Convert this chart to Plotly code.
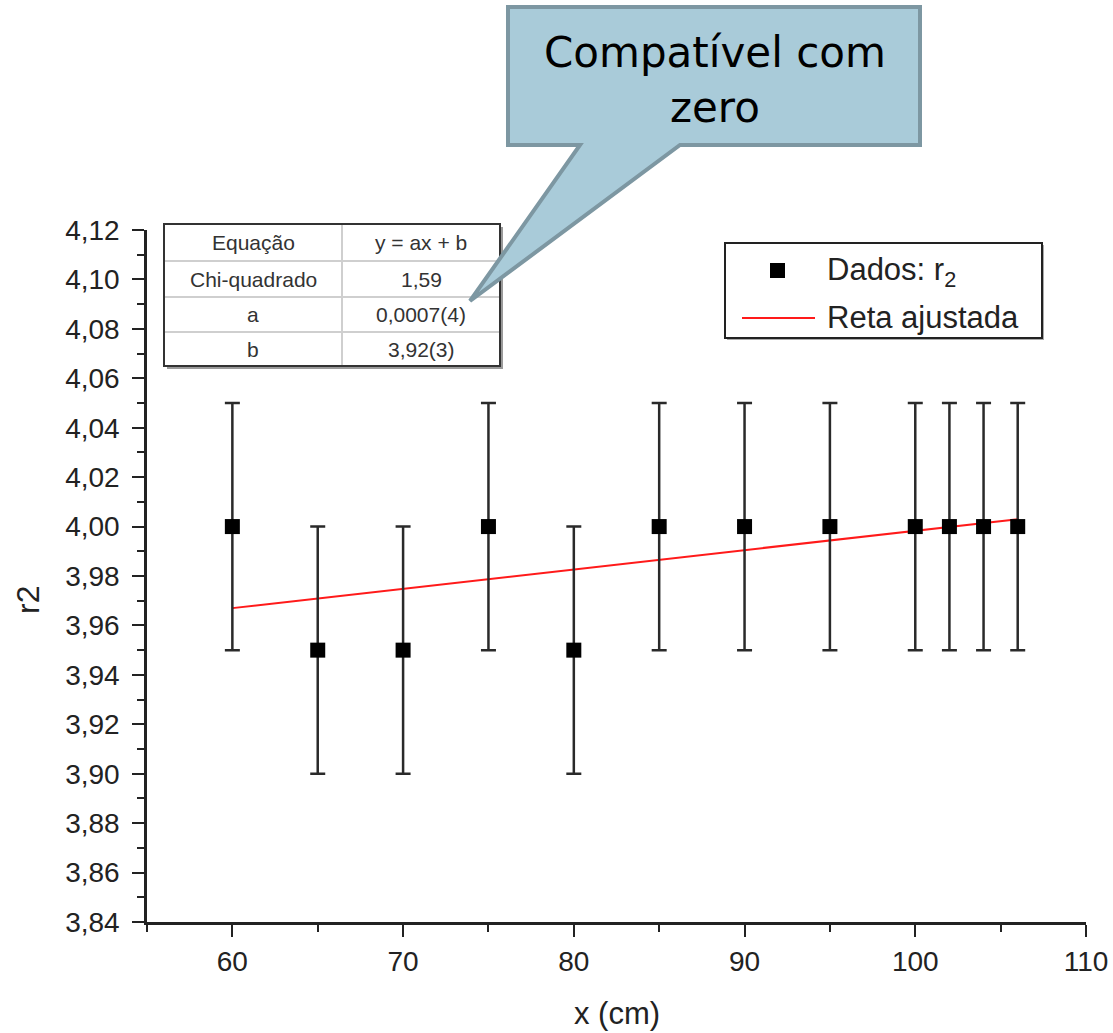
import plotly.graph_objects as go

# ---------------- data ----------------
x_cm = [60, 65, 70, 75, 80, 85, 90, 95, 100, 102, 104, 106]
r2 = [4.00, 3.95, 3.95, 4.00, 3.95, 4.00, 4.00, 4.00, 4.00, 4.00, 4.00, 4.00]
r2_err = [0.05] * 12

fit_x = [60, 106]
fit_y = [3.967, 4.003]

y_tickvals = [3.84, 3.86, 3.88, 3.90, 3.92, 3.94, 3.96, 3.98, 4.00, 4.02, 4.04, 4.06, 4.08, 4.10, 4.12]
y_ticktext = ["3,84", "3,86", "3,88", "3,90", "3,92", "3,94", "3,96", "3,98", "4,00",
              "4,02", "4,04", "4,06", "4,08", "4,10", "4,12"]
x_tickvals = [60, 70, 80, 90, 100, 110]
x_ticktext = ["60", "70", "80", "90", "100", "110"]

table_rows = [["Equação", "y = ax + b"],
              ["Chi-quadrado", "1,59"],
              ["a", "0,0007(4)"],
              ["b", "3,92(3)"]]

legend_labels = ["Dados: r<sub>2</sub>", "Reta ajustada"]
callout_text = "Compatível com<br>zero"
x_title = "x (cm)"
y_title = "r2"

# ---------------- layout geometry (pixels) ----------------
W, H = 1113, 1033
L, R, T, B = 147, 27, 230, 111
PW, PH = W - L - R, H - T - B


def px(x):
    return (x - L) / PW


def py(y):
    return (H - B - y) / PH


FONT = "Liberation Sans, Arial, sans-serif"
AX = "#222222"

fig = go.Figure()

fig.add_trace(go.Scatter(
    x=fit_x, y=fit_y, mode="lines",
    line=dict(color="#ff1a1a", width=2),
    showlegend=False, hoverinfo="skip"))

fig.add_trace(go.Scatter(
    x=x_cm, y=r2, mode="markers",
    marker=dict(symbol="square", size=15, color="#000000"),
    error_y=dict(type="data", array=r2_err, visible=True,
                 color="#2a2a2a", thickness=2.5, width=7.5),
    showlegend=False))

shapes = []
annotations = []

# ---------- table ----------
tx0, tx1, tmid = 164, 500, 342
row_edges = [224, 261, 297, 332, 366]
shapes.append(dict(type="rect", xref="paper", yref="paper",
                   x0=px(tx0 + 3), x1=px(tx1 + 3), y0=py(row_edges[-1] + 3), y1=py(row_edges[0] + 3),
                   fillcolor="#9a9a9a", line=dict(width=0), layer="above"))
shapes.append(dict(type="rect", xref="paper", yref="paper",
                   x0=px(tx0), x1=px(tx1), y0=py(row_edges[-1]), y1=py(row_edges[0]),
                   fillcolor="white", line=dict(width=0), layer="above"))
for ye in row_edges[1:-1]:
    shapes.append(dict(type="line", xref="paper", yref="paper",
                       x0=px(tx0), x1=px(tx1), y0=py(ye), y1=py(ye),
                       line=dict(color="#cfcfcf", width=2), layer="above"))
shapes.append(dict(type="line", xref="paper", yref="paper",
                   x0=px(tmid), x1=px(tmid), y0=py(row_edges[0]), y1=py(row_edges[-1]),
                   line=dict(color="#cfcfcf", width=2), layer="above"))
shapes.append(dict(type="rect", xref="paper", yref="paper",
                   x0=px(tx0), x1=px(tx1), y0=py(row_edges[-1]), y1=py(row_edges[0]),
                   fillcolor="rgba(0,0,0,0)", line=dict(color="#333333", width=2), layer="above"))
for i, (c1, c2) in enumerate(table_rows):
    yc = (row_edges[i] + row_edges[i + 1]) / 2
    annotations.append(dict(xref="paper", yref="paper", x=px((tx0 + tmid) / 2), y=py(yc),
                            text=c1, showarrow=False, xanchor="center", yanchor="middle",
                            font=dict(family=FONT, size=21, color="#333333")))
    annotations.append(dict(xref="paper", yref="paper", x=px((tmid + tx1) / 2), y=py(yc),
                            text=c2, showarrow=False, xanchor="center", yanchor="middle",
                            font=dict(family=FONT, size=21, color="#333333")))

# ---------- legend (drawn) ----------
lx0, lx1, ly0, ly1 = 725, 1042, 243, 338
shapes.append(dict(type="rect", xref="paper", yref="paper",
                   x0=px(lx0 + 2), x1=px(lx1 + 2), y0=py(ly1 + 2), y1=py(ly0 + 2),
                   fillcolor="#aaaaaa", line=dict(width=0), layer="above"))
shapes.append(dict(type="rect", xref="paper", yref="paper",
                   x0=px(lx0), x1=px(lx1), y0=py(ly1), y1=py(ly0),
                   fillcolor="white", line=dict(color="#222222", width=2), layer="above"))
shapes.append(dict(type="rect", xref="paper", yref="paper",
                   x0=px(770), x1=px(785), y0=py(278), y1=py(263),
                   fillcolor="#000000", line=dict(width=0), layer="above"))
shapes.append(dict(type="line", xref="paper", yref="paper",
                   x0=px(742), x1=px(815), y0=py(318), y1=py(318),
                   line=dict(color="#ff1a1a", width=2), layer="above"))
annotations.append(dict(xref="paper", yref="paper", x=px(825), y=py(272),
                        text=legend_labels[0], showarrow=False, xanchor="left", yanchor="middle",
                        font=dict(family=FONT, size=31, color="#222222")))
annotations.append(dict(xref="paper", yref="paper", x=px(825), y=py(317),
                        text=legend_labels[1], showarrow=False, xanchor="left", yanchor="middle",
                        font=dict(family=FONT, size=31, color="#222222")))

# ---------- callout ----------
pts = [(508, 7), (920, 7), (920, 145), (680, 145), (470, 301), (580, 145), (508, 145)]
path = "M " + " L ".join(f"{px(a):.5f},{py(b):.5f}" for a, b in pts) + " Z"
shapes.append(dict(type="path", xref="paper", yref="paper", path=path,
                   fillcolor="#a9cbd9", line=dict(color="#7d97a2", width=4), layer="above"))
annotations.append(dict(xref="paper", yref="paper", x=px(715), y=py(80),
                        text=callout_text, showarrow=False, xanchor="center", yanchor="middle",
                        align="center",
                        font=dict(family="DejaVu Sans, Verdana, sans-serif", size=42, color="#000000")))

# ---------- axis titles ----------
annotations.append(dict(xref="paper", yref="paper", x=px(617), y=py(1013),
                        text=x_title, showarrow=False, xanchor="center", yanchor="middle",
                        font=dict(family=FONT, size=31, color="#222222")))
annotations.append(dict(xref="paper", yref="paper", x=px(28), y=py(600),
                        text=y_title, showarrow=False, xanchor="center", yanchor="middle",
                        textangle=-90,
                        font=dict(family=FONT, size=32, color="#222222")))

fig.update_layout(
    width=W, height=H, autosize=False,
    margin=dict(l=L, r=R, t=T, b=B),
    paper_bgcolor="white", plot_bgcolor="white",
    shapes=shapes, annotations=annotations,
    showlegend=False,
    xaxis=dict(range=[55, 110], tickmode="array", tickvals=x_tickvals, ticktext=x_ticktext,
               showline=True, linecolor=AX, linewidth=2.5, mirror=False, automargin=False,
               ticks="outside", ticklen=12, tickwidth=2, tickcolor=AX,
               minor=dict(ticks="outside", dtick=5, tick0=55, ticklen=7, tickwidth=2, tickcolor=AX),
               showgrid=False, zeroline=False,
               tickfont=dict(family=FONT, size=28, color="#222222"),
               ticklabelstandoff=1),
    yaxis=dict(range=[3.84, 4.12], tickmode="array", tickvals=y_tickvals, ticktext=y_ticktext,
               showline=True, linecolor=AX, linewidth=2.5, mirror=False, automargin=False,
               ticks="outside", ticklen=12, tickwidth=2, tickcolor=AX,
               minor=dict(ticks="outside", dtick=0.01, tick0=3.84, ticklen=7, tickwidth=2, tickcolor=AX),
               showgrid=False, zeroline=False,
               tickfont=dict(family=FONT, size=28, color="#222222"),
               ticklabelstandoff=7),
)

fig.write_html("out.html")
